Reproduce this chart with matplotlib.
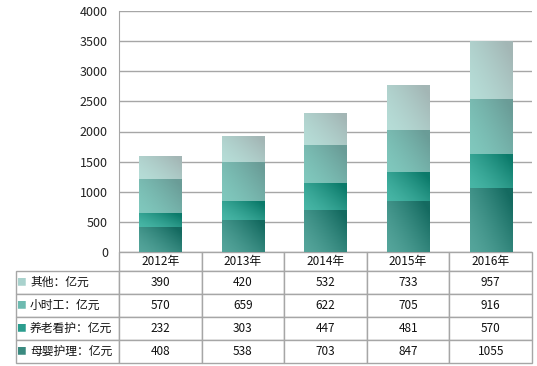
import numpy as np
import matplotlib
matplotlib.use('Agg')
from matplotlib import pyplot as plt
from matplotlib.colors import LinearSegmentedColormap
from matplotlib.table import Table

plt.rcParams['font.family'] = ['Noto Sans CJK SC', 'DejaVu Sans']

years = ['2012年', '2013年', '2014年', '2015年', '2016年']
seriesNames = ['其他：亿元', '小时工：亿元', '养老看护：亿元', '母婴护理：亿元']
other = [390, 420, 532, 733, 957]
hourly = [570, 659, 622, 705, 916]
elderly = [232, 303, 447, 481, 570]
infant = [408, 538, 703, 847, 1055]
yticks = [0, 500, 1000, 1500, 2000, 2500, 3000, 3500, 4000]

# stacking order bottom -> top
stackOrder = [infant, elderly, hourly, other]
# (light, dark) gradient ends per stacked series
gradColours = [('#55a59b', '#146a60'),
               ('#48b6a6', '#0b7a6a'),
               ('#80c8bd', '#6a9c97'),
               ('#b6ddd7', '#a3b6b5')]
keyColours = ['#a9d2cd', '#6dbab0', '#2b9d8e', '#3a8a80']  # table order


def gradientBar(ax, patch, cmap):
  x0, y0 = patch.get_x(), patch.get_y()
  w, h = patch.get_width(), patch.get_height()
  xs = np.linspace(0, 1, 60)
  ys = np.linspace(0, 1, 60)
  gx, gy = np.meshgrid(xs, ys)
  t = np.clip(0.65*gx + 0.45*(1 - gy), 0, 1) ** 1.4
  im = ax.imshow(t, cmap=cmap, vmin=0, vmax=1, origin='upper', aspect='auto',
                 extent=(x0, x0 + w, y0, y0 + h), interpolation='bilinear', zorder=3)
  im.set_clip_path(patch)
  patch.set_facecolor('none')


fig = plt.figure(figsize=(5.37, 3.66), dpi=100)
ax = fig.add_axes([119/537, 1 - 252/366, 413/537, 241/366])

xpos = np.arange(len(years))
bottom = np.zeros(len(years))
for vals, (c1, c2) in zip(stackOrder, gradColours):
  bars = ax.bar(xpos, vals, width=0.51, bottom=bottom, linewidth=0, zorder=3)
  cmap = LinearSegmentedColormap.from_list('g', [c1, c2])
  for p in bars.patches:
    gradientBar(ax, p, cmap)
  bottom += np.array(vals)

ax.set_xlim(-0.5, len(years) - 0.5)
ax.set_ylim(0, 4000)
ax.set_yticks(yticks)
ax.set_xticks([])
ax.yaxis.grid(True, color='#a6a6a6', linewidth=1.0, zorder=0)
ax.set_axisbelow(True)
ax.tick_params(axis='y', length=0, pad=8, labelsize=9, labelcolor='#222222')
for s in ['top', 'right', 'bottom']:
  ax.spines[s].set_visible(False)
ax.spines['left'].set_color('#a6a6a6')

# data table below the bars
tableRows = [other, hourly, elderly, infant]
tbl = Table(ax, bbox=[(16 - 119)/413, -111/241, 516/413, 111/241])
labelW, colW, headH, rowH = 103, 82.6, 19, 23
corner = tbl.add_cell(0, 0, labelW, headH, text='')
corner.visible_edges = 'open'
for j, yr in enumerate(years):
  tbl.add_cell(0, j + 1, colW, headH, text=yr, loc='center')
for i, (name, row) in enumerate(zip(seriesNames, tableRows)):
  c = tbl.add_cell(i + 1, 0, labelW, rowH, text=name, loc='left')
  c.PAD = 14/103
  for j, v in enumerate(row):
    tbl.add_cell(i + 1, j + 1, colW, rowH, text=str(v), loc='center')
tbl.auto_set_font_size(False)
for cell in tbl.get_celld().values():
  cell.set_edgecolor('#a6a6a6')
  cell.set_linewidth(1.0)
  cell.get_text().set_fontsize(8.5)
  cell.get_text().set_color('#111111')
ax.add_table(tbl)

rowCentres = [282.5, 305.5, 328.5, 351.5]
for yc, col in zip(rowCentres, keyColours):
  ax.text((21 - 119)/413, (252 - yc)/241, '■', color=col, fontsize=7,
          transform=ax.transAxes, ha='center', va='center')

plt.savefig('out.png', dpi=100)
